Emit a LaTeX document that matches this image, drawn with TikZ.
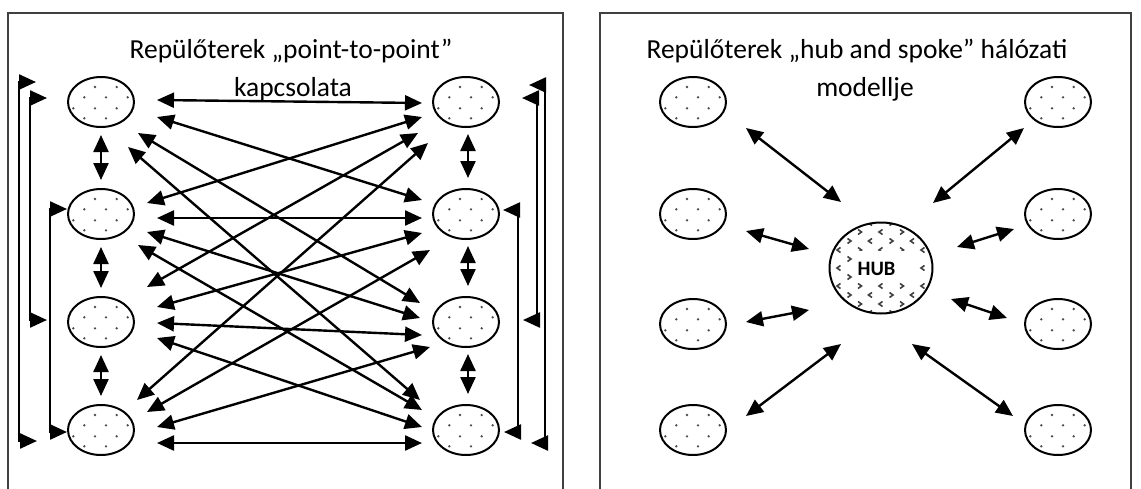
\documentclass[tikz,border=0pt]{standalone}
\usepackage{fontspec}
\setmainfont{Carlito}
\usetikzlibrary{arrows.meta,shapes.geometric}
\tikzset{
  bi/.style={line width=2.4pt,{Triangle[length=17pt,width=15pt]}-{Triangle[length=17pt,width=15pt]}},
  panel/.style={draw=black!75,line width=1.3pt},
  titletext/.style={anchor=base,inner sep=0pt,font=\fontsize{27.5}{33}\selectfont},
  airport/.style={ellipse,draw,line width=2pt,minimum width=66pt,minimum height=50pt,inner sep=0pt,
    path picture={
      \foreach \yy/\xo in {-25.8/5,-15/-6,-4.7/5,6.3/-6,16.3/5,27/-6}
        \foreach \k in {-2,...,2}{
          \pgfmathsetmacro{\dx}{\xo+21.7*\k}
          \fill[black!70] ([shift={(\dx,\yy)}]path picture bounding box.center) circle (1.3pt);
        }
    }},
  hubshape/.style={ellipse,draw,line width=2pt,minimum width=103pt,minimum height=91pt,inner sep=0pt,
    path picture={
      \foreach \j in {-5,...,5}
        \foreach \k in {-3,...,3}{
          \pgfmathsetmacro{\dx}{\k*21+mod(abs(\j),2)*10.5+1.5}
          \pgfmathsetmacro{\dy}{\j*9-2.5}
          \pgfmathtruncatemacro{\flip}{mod(abs(\j+\k),2)}
          \ifnum\flip=0
            \draw[black!75,line width=1.6pt]
              ([shift={(\dx,\dy)}]path picture bounding box.center) -- ++(-3.5,2.5) -- ++(3.5,2.5);
          \else
            \draw[black!75,line width=1.6pt]
              ([shift={(\dx-3.5,\dy)}]path picture bounding box.center) -- ++(3.5,2.5) -- ++(-3.5,2.5);
          \fi
        }
    }},
}
\begin{document}
\begin{tikzpicture}[x=1pt,y=-1pt]
\useasboundingbox (0,0) rectangle (1141,488);
% panels
\draw[panel] (8,500) -- (8,13) -- (563,13) -- (563,500);
\draw[panel] (600,500) -- (600,13) -- (1131,13) -- (1131,500);
% titles
\node[titletext] (t1) at (291,58) {Repülőterek „point-to-point”};
\node[titletext] (t2) at (293,96) {kapcsolata};
\node[titletext] (t3) at (857,58) {Repülőterek „hub and spoke” hálózati};
\node[titletext] (t4) at (865,96) {modellje};
% left panel nodes
\foreach \i/\y in {1/102,2/214,3/322,4/430}{
  \node[airport] (L\i) at (101,\y) {};
  \node[airport] (R\i) at (466,\y) {};
}
% vertical arrows
\foreach \a/\b in {1/2,2/3,3/4}{
  \draw[bi,shorten <=7pt,shorten >=8pt] (L\a.south) -- (L\b.north);
  \draw[bi,shorten <=6pt,shorten >=10pt] ([xshift=2pt]R\a.south) -- ([xshift=2pt]R\b.north);
}
% crossing arrows
\foreach \i/\j/\ax/\ay/\bx/\by in {
  1/1/157/100/422/103, 1/2/157/117/422/200, 1/3/138/133/420/303, 1/4/128/147/420/400,
  2/1/147/203/422/117, 2/2/157/218/422/218, 2/3/147/232/420/318, 2/4/138/245/422/410,
  3/1/147/287/418/133, 3/2/157/307/422/233, 3/3/157/323/422/335, 3/4/157/338/422/427,
  4/1/137/400/428/143, 4/2/147/412/430/250, 4/3/157/427/430/347, 4/4/157/443/422/443}{
  \coordinate (l\i\j) at (\ax,\ay);
  \coordinate (r\i\j) at (\bx,\by);
  \draw[bi] (l\i\j) -- (r\i\j);
}
% brackets left
\coordinate (ba1) at (36,82);  \coordinate (ba2) at (37,441);
\coordinate (bb1) at (47,98);  \coordinate (bb2) at (47,320);
\coordinate (bc1) at (67,209); \coordinate (bc2) at (67,432);
\draw[bi] (ba1) -- (19,82) -- (19,441) -- (ba2);
\draw[bi] (bb1) -- (30,98) -- (30,320) -- (bb2);
\draw[bi] (bc1) -- (50,209) -- (50,432) -- (bc2);
% brackets right
\coordinate (ca1) at (529,85);  \coordinate (ca2) at (531,443);
\coordinate (cb1) at (522,98);  \coordinate (cb2) at (523,320);
\coordinate (cc1) at (503,210); \coordinate (cc2) at (504,432);
\draw[bi] (ca1) -- (545,85) -- (545,443) -- (ca2);
\draw[bi] (cb1) -- (537,98) -- (537,320) -- (cb2);
\draw[bi] (cc1) -- (518,210) -- (518,432) -- (cc2);
% right panel
\node[hubshape] (H) at (881,268) {};
\node[fill=white,minimum width=59pt,minimum height=32pt,inner sep=0pt] (hubbox) at (886,267) {};
\node[inner sep=0pt,font=\bfseries\fontsize{20.5}{24}\selectfont] (hubtxt) at (876.5,268.5) {HUB};
\foreach \i/\y in {1/102,2/214,3/324,4/430}{
  \node[airport] (P\i) at (693,\y) {};
  \node[airport] (Q\i) at (1058,\y) {};
}
\foreach \n/\ax/\ay/\bx/\by in {
  p1/746/128/841/202, p2/746/231/809/249, p3/746/322/809/310, p4/746/416/841/344,
  q1/1024/128/933/203, q2/1014/229/957/247, q3/1007/318/951/299, q4/1013/416/912/344}{
  \coordinate (\n a) at (\ax,\ay);
  \coordinate (\n b) at (\bx,\by);
  \draw[bi] (\n a) -- (\n b);
}
\end{tikzpicture}
\end{document}
